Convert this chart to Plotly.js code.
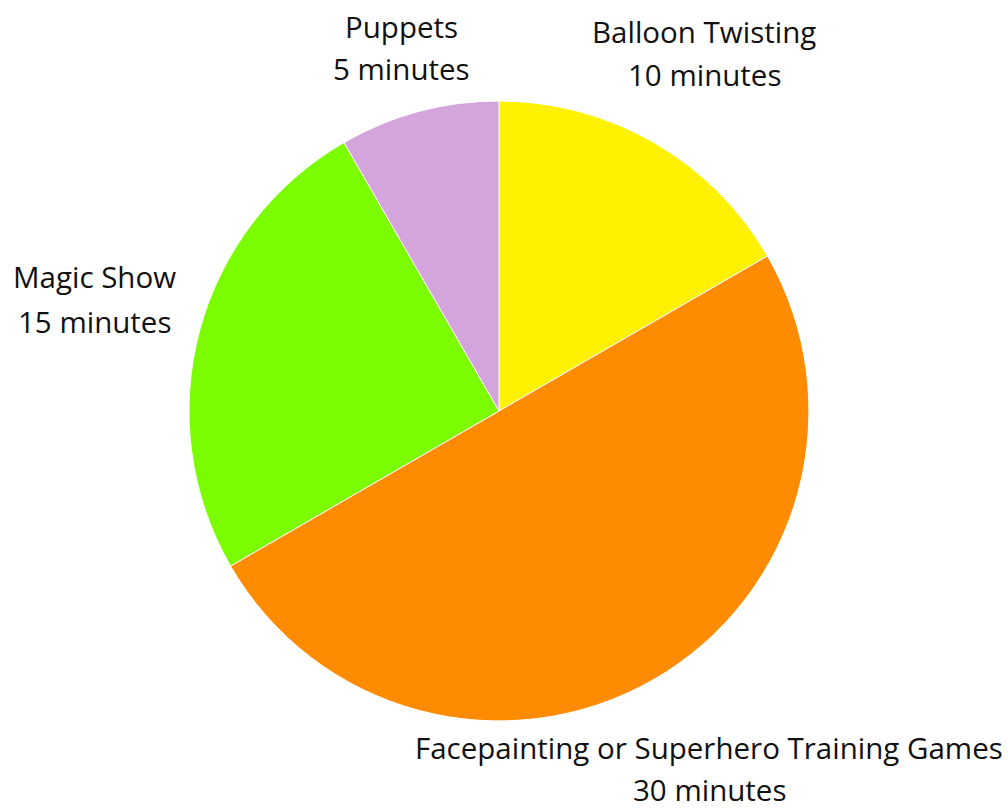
<!DOCTYPE html>
<html>
<head>
<meta charset="utf-8">
<script src="https://cdn.plot.ly/plotly-3.0.1.min.js"></script>
<style>html,body{margin:0;padding:0;background:#fff;}#chart{width:1008px;height:811px;}</style>
</head>
<body>
<div id="chart"></div>
<script>
// Data
const categories = ["Balloon Twisting", "Facepainting or Superhero Training Games", "Magic Show", "Puppets"];
const minutes = [10, 30, 15, 5];
const unit = "minutes";

// Styling (not data)
const sliceColors = ["#FFF200", "#FF8C00", "#7CFC00", "#D4A4DC"];
const W = 1008, H = 811;
// label line centres in pixels: [x, yLine1, yLine2]
const labelPos = [
  [704, 31, 75],
  [709, 747, 789],
  [94, 277, 321],
  [401, 27, 68]
];

const annotations = [];
categories.forEach((c, i) => {
  const p = labelPos[i];
  const lines = [c, minutes[i] + " " + unit];
  lines.forEach((t, j) => {
    annotations.push({
      text: t, xref: "paper", yref: "paper",
      x: p[0] / W, y: 1 - p[1 + j] / H,
      xanchor: "center", yanchor: "middle",
      showarrow: false,
      font: {family: "'Open Sans', sans-serif", size: 29.5, color: "#111"}
    });
  });
});

const trace = {
  type: "pie",
  labels: categories,
  values: minutes,
  sort: false,
  direction: "clockwise",
  rotation: 0,
  textinfo: "none",
  hoverinfo: "label+value",
  marker: {colors: sliceColors, line: {color: "#ffffff", width: 1}},
  domain: {x: [189 / W, 809 / W], y: [1 - 721 / H, 1 - 101 / H]}
};

const layout = {
  width: W, height: H,
  margin: {l: 0, r: 0, t: 0, b: 0},
  showlegend: false,
  paper_bgcolor: "#fff",
  annotations: annotations
};

Plotly.newPlot("chart", [trace], layout, {displayModeBar: false, staticPlot: true});
</script>
</body>
</html>
